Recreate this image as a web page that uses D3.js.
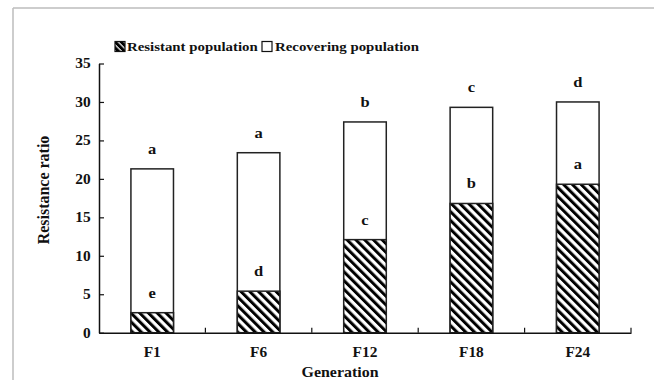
<!DOCTYPE html>
<html>
<head>
<meta charset="utf-8">
<script src="https://cdn.jsdelivr.net/npm/d3@7/dist/d3.min.js"></script>
<style>
  html, body { margin: 0; padding: 0; background: #fff; }
  svg { display: block; }
  text { font-family: "Liberation Serif", "Times New Roman", serif; font-weight: bold; fill: #111; }
</style>
</head>
<body>
<svg id="chart" width="654" height="380"></svg>
<script>
// Resistance ratio per generation
const generations = ["F1", "F6", "F12", "F18", "F24"];
const recovering = [21.3, 23.4, 27.4, 29.3, 30.0];
const resistant = [2.6, 5.4, 12.1, 16.8, 19.3];
// Significance letters
const recoveringLetters = ["a", "a", "b", "c", "d"];
const resistantLetters = ["e", "d", "c", "b", "a"];
const yTicks = [0, 5, 10, 15, 20, 25, 30, 35];

const svg = d3.select("#chart");
const SX = 1.1; // horizontal text widening

// Frame lines
svg.append("line").attr("x1", 13).attr("y1", 8).attr("x2", 654).attr("y2", 8)
  .attr("stroke", "#bdbdbd").attr("stroke-width", 1.5);
svg.append("line").attr("x1", 13).attr("y1", 8).attr("x2", 13).attr("y2", 380)
  .attr("stroke", "#bdbdbd").attr("stroke-width", 1.5);

// Hatch patterns
const defs = svg.append("defs");
function hatch(id, size, bar) {
  const p = defs.append("pattern")
    .attr("id", id)
    .attr("patternUnits", "userSpaceOnUse")
    .attr("width", size).attr("height", size)
    .attr("patternTransform", "rotate(-45)");
  p.append("rect").attr("width", size).attr("height", size).attr("fill", "#fff");
  p.append("rect").attr("width", bar).attr("height", size).attr("fill", "#000");
}
hatch("hatch", 6.2, 3.0);
hatch("hatch-key", 4.2, 3.0);

const x = d3.scaleBand().domain(generations).range([99, 631]).padding(0);
const y = d3.scaleLinear().domain([0, 35]).range([332.7, 63.5]);
const bw = x.bandwidth() * 0.4;
const bx = g => x(g) + (x.bandwidth() - bw) / 2;

const plot = svg.append("g");

// Recovering population (behind)
plot.selectAll("rect.rec").data(generations).join("rect")
  .attr("class", "rec")
  .attr("x", d => bx(d))
  .attr("width", bw)
  .attr("y", (d, i) => y(recovering[i]))
  .attr("height", (d, i) => y(0) - y(recovering[i]))
  .attr("fill", "#fff").attr("stroke", "#222").attr("stroke-width", 1.5);

// Resistant population (front)
plot.selectAll("rect.res").data(generations).join("rect")
  .attr("class", "res")
  .attr("x", d => bx(d))
  .attr("width", bw)
  .attr("y", (d, i) => y(resistant[i]))
  .attr("height", (d, i) => y(0) - y(resistant[i]))
  .attr("fill", "url(#hatch)").attr("stroke", "#222").attr("stroke-width", 1.5);

// Letters
function letter(g, txt, val) {
  plot.append("text")
    .attr("transform", `translate(${bx(g) + bw / 2},${y(val) - 15}) scale(${SX},1)`)
    .attr("text-anchor", "middle")
    .attr("font-size", 15)
    .text(txt);
}
generations.forEach((g, i) => {
  letter(g, recoveringLetters[i], recovering[i]);
  letter(g, resistantLetters[i], resistant[i]);
});

// Y axis
const yAxis = svg.append("g").attr("transform", "translate(99,0)")
  .call(d3.axisLeft(y).tickValues(yTicks).tickSizeInner(-5).tickSizeOuter(0).tickPadding(7.5));
yAxis.select(".domain").attr("stroke", "#111").attr("stroke-width", 1.5);
yAxis.selectAll(".tick line").attr("stroke", "#111").attr("stroke-width", 1.2);
yAxis.selectAll(".tick text")
  .attr("font-size", 14).attr("font-family", null)
  .attr("transform", `scale(${SX},1)`);

// X axis
const xAxis = svg.append("g").attr("transform", `translate(0,${y(0)})`)
  .call(d3.axisBottom(x).tickSize(0).tickPadding(14));
xAxis.select(".domain").attr("stroke", "#111").attr("stroke-width", 1.5);
xAxis.selectAll(".tick text")
  .attr("font-size", 14).attr("font-family", null)
  .attr("transform", `scale(${SX},1)`);
// Category boundary ticks (inside)
const bounds = generations.map(g => x(g)).concat([x.range()[1]]);
xAxis.selectAll("line.bound").data(bounds.slice(1)).join("line")
  .attr("class", "bound")
  .attr("x1", d => d).attr("x2", d => d)
  .attr("y1", 0).attr("y2", -5)
  .attr("stroke", "#111").attr("stroke-width", 1.2);

// Axis titles
svg.append("text")
  .attr("transform", `translate(49,190) scale(${SX},1) rotate(-90)`)
  .attr("text-anchor", "middle")
  .attr("font-size", 16)
  .text("Resistance ratio");
svg.append("text")
  .attr("transform", `translate(340,377) scale(${SX},1)`)
  .attr("text-anchor", "middle")
  .attr("font-size", 14.5)
  .text("Generation");

// Legend
const leg = svg.append("g");
leg.append("rect").attr("x", 115).attr("y", 41.5).attr("width", 10).attr("height", 10)
  .attr("fill", "url(#hatch-key)").attr("stroke", "#111").attr("stroke-width", 1.2);
leg.append("text")
  .attr("transform", `translate(127,51) scale(${SX},1)`)
  .attr("font-size", 13.5)
  .text("Resistant population");
leg.append("rect").attr("x", 262).attr("y", 41.5).attr("width", 10).attr("height", 10)
  .attr("fill", "#fff").attr("stroke", "#111").attr("stroke-width", 1.2);
leg.append("text")
  .attr("transform", `translate(275,51) scale(${SX},1)`)
  .attr("font-size", 13.5)
  .text("Recovering population");
</script>
</body>
</html>
